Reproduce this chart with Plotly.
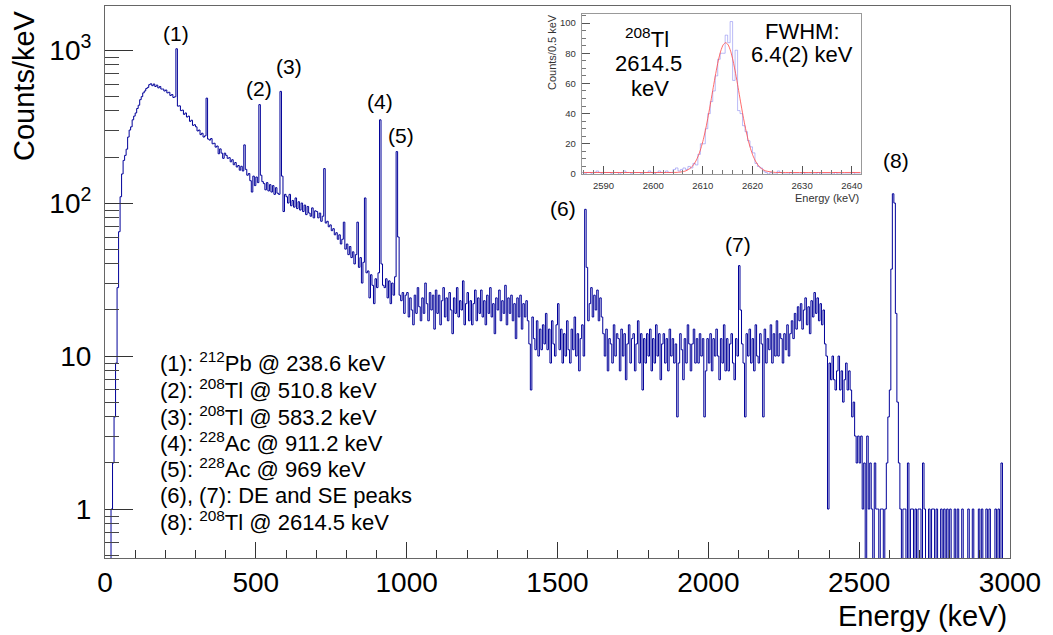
import numpy as np
import plotly.graph_objects as go

# ---------------- data ----------------
bin_width_kev = 5  # main spectrum bins start at 0 keV

counts_0_500 = [
    0, 0, 0, 0, 1, 2, 4, 9, 28, 65, 110, 155, 190, 205, 225, 270, 300, 315, 350, 370,
    388, 415, 436, 474, 496, 525, 540, 560, 570, 594, 602, 585, 600, 578, 590, 566, 578, 556, 556, 540,
    548, 525, 530, 505, 512, 490, 495, 1020, 430, 432, 402, 405, 380, 388, 365, 370, 342, 348, 322, 325,
    315, 296, 300, 280, 286, 270, 275, 485, 262, 258, 264, 244, 246, 232, 236, 210, 226, 212, 196, 212,
    205, 196, 198, 186, 192, 178, 184, 172, 176, 164, 174, 162, 240, 166, 152, 156, 140, 118, 150, 130,
]
counts_500_1000 = [
    148, 136, 440, 152, 138, 134, 122, 136, 120, 132, 118, 130, 114, 126, 116, 114, 537, 150, 88, 114,
    110, 100, 114, 96, 104, 94, 108, 92, 102, 90, 100, 88, 97, 84, 95, 86, 82, 93, 80, 89,
    88, 80, 86, 76, 82, 168, 74, 76, 70, 72, 66, 68, 62, 64, 58, 62, 54, 58, 75, 50,
    54, 46, 52, 44, 48, 40, 46, 75, 38, 44, 30, 41, 108, 35, 36, 24, 34, 29, 22, 32,
    28, 35, 350, 40, 29, 28, 32, 24, 31, 22, 30, 25, 33, 217, 60, 25, 23, 26, 19, 25,
]
counts_1000_1500 = [
    26, 18, 24, 20, 16, 25, 19, 28, 21, 17, 24, 19, 30, 22, 17, 26, 20, 25, 15, 27,
    19, 25, 16, 23, 28, 18, 24, 17, 26, 20, 14, 24, 19, 28, 18, 23, 20, 31, 16, 22,
    26, 17, 23, 16, 22, 27, 17, 24, 19, 27, 18, 23, 16, 25, 19, 28, 18, 22, 14, 24,
    20, 27, 17, 23, 19, 29, 16, 24, 19, 25, 17, 22, 13, 24, 18, 25, 15, 22, 18, 23,
    17, 12, 6, 18, 13, 11, 17, 10, 15, 11, 16, 12, 19, 11, 15, 9, 17, 12, 10, 16,
]
counts_1500_2000 = [
    22, 11, 15, 9, 14, 10, 17, 11, 9, 15, 11, 18, 10, 14, 8, 13, 16, 10, 91, 38,
    17, 22, 28, 18, 25, 20, 27, 17, 24, 18, 14, 10, 15, 8, 13, 12, 9, 16, 10, 14,
    13, 8, 15, 10, 14, 7, 12, 16, 9, 13, 14, 8, 12, 17, 9, 14, 6, 13, 9, 14,
    10, 15, 8, 13, 9, 16, 10, 14, 7, 12, 14, 9, 13, 8, 15, 10, 13, 9, 12, 4,
    9, 14, 11, 7, 13, 9, 16, 12, 8, 12, 15, 9, 13, 9, 14, 10, 13, 4, 8, 13,
]
counts_2000_2500 = [
    9, 14, 8, 13, 10, 15, 10, 7, 13, 9, 16, 8, 13, 8, 12, 14, 9, 7, 13, 10,
    39, 20, 12, 9, 4, 14, 10, 15, 9, 13, 8, 16, 10, 9, 14, 12, 4, 15, 9, 13,
    11, 16, 9, 14, 10, 17, 10, 14, 13, 9, 14, 11, 16, 10, 14, 17, 13, 19, 15, 21,
    17, 22, 15, 20, 24, 16, 21, 14, 23, 18, 26, 19, 24, 17, 22, 16, 20, 12, 10, 1,
    9, 7, 10, 7, 6, 8, 10, 6, 8, 5, 7, 9, 6, 8, 6, 4, 5, 3, 2, 3,
]
counts_2500_3000 = [
    2, 3, 1, 2, 0, 3, 1, 2, 1, 0, 2, 1, 1, 0, 1, 1, 0, 1, 2, 4,
    6, 37, 115, 100, 19, 5, 2, 1, 0, 1, 1, 0, 2, 0, 1, 1, 0, 1, 0, 1,
    1, 0, 2, 1, 0, 0, 1, 0, 1, 1, 0, 1, 0, 0, 1, 0, 1, 0, 1, 0,
    1, 0, 0, 1, 0, 1, 0, 0, 1, 0, 0, 0, 1, 0, 0, 1, 0, 0, 0, 1,
    0, 1, 0, 0, 1, 0, 1, 0, 0, 0, 1, 0, 1, 0, 2, 0, 0, 0, 0, 0,
]

# inset: 0.5 keV bins starting at 2585.5 keV
inset_first_edge = 2585.5
inset_bin_width = 0.5
inset_counts = [
    1, 0, 1, 1, 0, 1, 2, 1, 0, 1, 1, 1, 0, 1, 1, 0, 1, 2, 1, 1,
    0, 1, 1, 1, 0, 1, 1, 2, 1, 0, 1, 2, 1, 1, 2, 1, 1,
    3, 4, 2, 3, 4, 3, 5, 4,
    7, 6, 13, 20, 20, 30, 40, 48,
    55, 65, 76, 80, 80, 92, 87, 101,
    62, 82, 42, 40, 32, 28, 22, 18,
    14, 7, 5, 4, 2, 1, 0, 1,
    0, 0, 2, 1, 0, 0, 0, 1, 0, 0, 0, 0, 1, 0, 0, 0, 0, 0, 1, 0,
    0, 0, 0, 0, 0, 1, 0, 0, 0, 0, 0, 0, 1, 0, 0, 0,
]
fit_energy = [2585.8, 2602.6, 2604.6, 2605.6, 2606.6, 2607.6, 2608.1, 2608.6, 2609.1, 2609.6,
              2610.1, 2610.6, 2611.1, 2611.6, 2612.1, 2612.6, 2613.1, 2613.6, 2614.1, 2614.6,
              2615.1, 2615.6, 2616.1, 2616.6, 2617.1, 2617.6, 2618.1, 2618.6, 2619.1, 2619.6,
              2620.1, 2620.6, 2621.1, 2621.6, 2622.6, 2624.6, 2626.6, 2641.8]
fit_counts = [1.0, 1.0, 1.05, 1.36, 2.1, 4.1, 6.0, 8.6, 12.1, 16.9,
              22.9, 30.2, 38.6, 47.8, 57.4, 66.6, 74.9, 81.4, 85.6, 87.0,
              85.6, 81.4, 74.9, 66.6, 57.4, 47.8, 38.6, 30.2, 22.9, 16.9,
              12.1, 8.6, 6.0, 4.1, 2.1, 1.05, 1.0, 1.0]

peak_labels = ["(1)", "(2)", "(3)", "(4)", "(5)", "(6)", "(7)", "(8)"]
legend_lines = [
    "(1): <sup>212</sup>Pb @ 238.6 keV",
    "(2): <sup>208</sup>Tl @ 510.8 keV",
    "(3): <sup>208</sup>Tl @ 583.2 keV",
    "(4): <sup>228</sup>Ac @ 911.2 keV",
    "(5): <sup>228</sup>Ac @ 969 keV",
    "(6), (7): DE and SE peaks",
    "(8): <sup>208</sup>Tl @ 2614.5 keV",
]
x_tick_vals = [0, 500, 1000, 1500, 2000, 2500, 3000]
y_tick_vals = [1, 10, 100, 1000]
y_tick_text = ["1", "10", "10<sup>2</sup>", "10<sup>3</sup>"]

# ---------------- layout helpers (pixel -> paper) ----------------
W, H = 1053, 635
L, R, T, B = 105, 1010, 6, 558


def px(x):
    return (x - L) / (R - L)


def py(y):
    return (B - y) / (B - T)


FONT = "Liberation Sans, Arial, Helvetica, sans-serif"
BLUE = "#000099"

counts = np.array(counts_0_500 + counts_500_1000 + counts_1000_1500
                  + counts_1500_2000 + counts_2000_2500 + counts_2500_3000, dtype=float)
edges = np.arange(len(counts)) * bin_width_kev
x_main = np.append(edges, edges[-1] + bin_width_kev)
y_main = np.append(counts, counts[-1])
y_main = np.where(y_main > 0, y_main, 0.1)  # empty bins drawn to the frame bottom

inset_c = np.array(inset_counts, dtype=float)
inset_edges = inset_first_edge + np.arange(len(inset_c)) * inset_bin_width
x_in = np.append(inset_edges, inset_edges[-1] + inset_bin_width)
y_in = np.append(inset_c, inset_c[-1])

fig = go.Figure()
fig.add_trace(go.Scatter(x=x_main, y=y_main, mode="lines", line=dict(color=BLUE, width=1, shape="hv"),
                         hoverinfo="skip", showlegend=False))
fig.add_trace(go.Scatter(x=x_in, y=y_in, mode="lines", xaxis="x2", yaxis="y2",
                         line=dict(color="rgba(120,120,240,0.5)", width=1, shape="hv"),
                         hoverinfo="skip", showlegend=False))
fig.add_trace(go.Scatter(x=fit_energy, y=fit_counts, mode="lines", xaxis="x2", yaxis="y2",
                         line=dict(color="rgba(255,70,70,0.8)", width=1, shape="spline", smoothing=0.6),
                         hoverinfo="skip", showlegend=False))

minor_y = [v * 10 ** d for d in range(-1, 4) for v in range(2, 10)]
minor_y = [0.5, 0.6, 0.7, 0.8, 0.9] + [v for v in minor_y if 1 < v < 1900]

fig.update_layout(
    width=W, height=H,
    margin=dict(l=L, r=W - R, t=T, b=H - B),
    paper_bgcolor="white", plot_bgcolor="white",
    font=dict(family=FONT, color="black"),
    xaxis=dict(domain=[0, 1], range=[0, 3000], tickmode="array", tickvals=x_tick_vals,
               ticks="inside", ticklen=16, tickwidth=1, tickcolor="#333",
               minor=dict(ticks="inside", dtick=100, tick0=0, ticklen=8, tickcolor="#333"),
               showgrid=False, zeroline=False, showline=True, linecolor="#666", linewidth=1, mirror=True,
               tickfont=dict(size=28, family=FONT, color="black"), ticklabelstandoff=-1),
    yaxis=dict(domain=[0, 1], type="log", range=[-0.32, 3.288], tickmode="array",
               tickvals=y_tick_vals, ticktext=y_tick_text,
               ticks="inside", ticklen=28, tickwidth=1, tickcolor="#333",
               minor=dict(ticks="inside", tickmode="array", tickvals=minor_y, ticklen=14, tickcolor="#444"),
               showgrid=False, zeroline=False, showline=True, linecolor="#666", linewidth=1, mirror=True,
               tickfont=dict(size=28, family=FONT, color="black"), ticklabelstandoff=7),
    xaxis2=dict(domain=[px(581.7), px(860.7)], anchor="y2", range=[2585.6, 2641.8],
                tickmode="array", tickvals=[2590, 2600, 2610, 2620, 2630, 2640],
                ticks="inside", ticklen=8, tickcolor="#555",
                minor=dict(ticks="inside", dtick=2, tick0=2590, ticklen=4, tickcolor="#777"),
                showgrid=False, zeroline=False, showline=True, linecolor="#999", mirror=True,
                tickfont=dict(size=9.5, family=FONT, color="#333"), ticklabelstandoff=3),
    yaxis2=dict(domain=[py(174), py(14)], anchor="x2", range=[0, 106],
                tickmode="array", tickvals=[0, 20, 40, 60, 80, 100],
                ticks="inside", ticklen=8, tickcolor="#555",
                minor=dict(ticks="inside", dtick=5, tick0=0, ticklen=4, tickcolor="#777"),
                showgrid=False, zeroline=False, showline=True, linecolor="#999", mirror=True,
                tickfont=dict(size=9.5, family=FONT, color="#333"), ticklabelstandoff=3),
)

ann = []


def add_text(text, x, y, size, xanchor="center", yanchor="middle", angle=0, color="black"):
    ann.append(dict(text=text, x=px(x), y=py(y), xref="paper", yref="paper",
                    xanchor=xanchor, yanchor=yanchor, showarrow=False, textangle=angle,
                    font=dict(size=size, family=FONT, color=color)))


peak_pos = [(176, 33), (259, 88), (289, 66), (380, 101), (401, 135), (563, 209), (738, 244), (896, 160)]
for lab, (x, y) in zip(peak_labels, peak_pos):
    add_text(lab, x, y, 21)

legend_y = [362, 389, 416, 442, 468, 495, 521]
for line, y in zip(legend_lines, legend_y):
    add_text(line, 158, y, 22, xanchor="left")

add_text("Energy (keV)", 1009, 616, 29, xanchor="right")
add_text("Counts/keV", 24, 86, 29, angle=-90)

# inset texts
add_text("<sup>208</sup>Tl", 647, 38, 22)
add_text("2614.5", 648, 63, 22)
add_text("keV", 650, 88, 22)
add_text("FWHM:", 802, 32, 22)
add_text("6.4(2) keV", 802, 55, 22)
add_text("Energy (keV)", 861, 198, 11, xanchor="right", color="#333")
add_text("Counts/0.5 keV", 552, 52, 11, angle=-90, color="#333")

fig.update_layout(annotations=ann)
fig.write_html("out.html", config={"displayModeBar": False},
               post_script="document.body.style.margin='0';document.body.style.overflow='hidden';")
